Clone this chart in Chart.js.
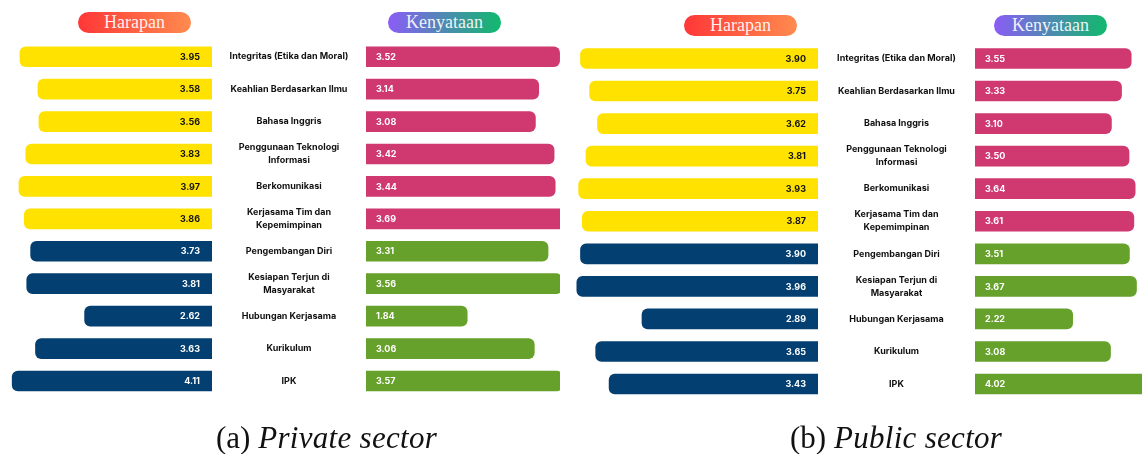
<!DOCTYPE html>
<html><head><meta charset="utf-8">
<script src="https://cdn.jsdelivr.net/npm/chart.js@4"></script>
<style>
html,body{margin:0;padding:0;background:#fff;}
#wrap{position:relative;width:1142px;height:454px;overflow:hidden;background:#fff;}
canvas{position:absolute;top:0;}
.pill{position:absolute;width:113px;height:21px;border-radius:11px;color:rgba(255,255,255,0.92);font-family:'Liberation Serif',serif;font-size:18px;line-height:21px;text-align:center;}
.harapan{background:linear-gradient(90deg,#ff3737,#ff8b4f);}
.kenyataan{background:linear-gradient(90deg,#8b5cf6,#10b96c);}
.cap{position:absolute;top:422px;font-family:'Liberation Serif',serif;font-size:31px;line-height:31px;white-space:nowrap;color:#111;}
.cap i{letter-spacing:0.3px;}
</style></head>
<body><div id="wrap">
 <div class="pill harapan" style="left:78px;top:12px">Harapan</div>
 <div class="pill kenyataan" style="left:388px;top:12px">Kenyataan</div>
 <div class="pill harapan" style="left:684px;top:15px">Harapan</div>
 <div class="pill kenyataan" style="left:994px;top:15px">Kenyataan</div>
 <canvas id="aL" width="212" height="454" style="left:0px"></canvas>
 <canvas id="aR" width="348" height="454" style="left:212px"></canvas>
 <canvas id="bL" width="248" height="454" style="left:570px"></canvas>
 <canvas id="bR" width="324" height="454" style="left:818px"></canvas>
 <div class="cap" style="left:216px">(a) <i>Private sector</i></div>
 <div class="cap" style="left:790px">(b) <i>Public sector</i></div>
</div>
<script>
const categories = [
  ['Integritas (Etika dan Moral)'],
  ['Keahlian Berdasarkan Ilmu'],
  ['Bahasa Inggris'],
  ['Penggunaan Teknologi', 'Informasi'],
  ['Berkomunikasi'],
  ['Kerjasama Tim dan', 'Kepemimpinan'],
  ['Pengembangan Diri'],
  ['Kesiapan Terjun di', 'Masyarakat'],
  ['Hubungan Kerjasama'],
  ['Kurikulum'],
  ['IPK']
];
const privateHarapan   = [3.95, 3.58, 3.56, 3.83, 3.97, 3.86, 3.73, 3.81, 2.62, 3.63, 4.11];
const privateKenyataan = [3.52, 3.14, 3.08, 3.42, 3.44, 3.69, 3.31, 3.56, 1.84, 3.06, 3.57];
const publicHarapan    = [3.90, 3.75, 3.62, 3.81, 3.93, 3.87, 3.90, 3.96, 2.89, 3.65, 3.43];
const publicKenyataan  = [3.55, 3.33, 3.10, 3.50, 3.64, 3.61, 3.51, 3.67, 2.22, 3.08, 4.02];

const YELLOW = '#FFE200', NAVY = '#033F70', PINK = '#D0396F', GREEN = '#66A12B';
const harapanColors   = categories.map((c, i) => i < 6 ? YELLOW : NAVY);
const harapanText     = categories.map((c, i) => i < 6 ? '#111111' : '#FFFFFF');
const kenyataanColors = categories.map((c, i) => i < 6 ? PINK : GREEN);
const kenyataanText   = categories.map(() => '#FFFFFF');

const LABEL_FONT = { family: 'Inter', size: 9, weight: 'bold', lineHeight: 1.45 };

function measureWidest(labels, fontStr) {
  const c = document.createElement('canvas').getContext('2d');
  c.font = fontStr;
  let w = 0;
  labels.forEach(l => (Array.isArray(l) ? l : [l]).forEach(s => { w = Math.max(w, c.measureText(s).width); }));
  return w;
}

const valueLabels = {
  id: 'valueLabels',
  afterDatasetsDraw(chart, args, opts) {
    const ctx = chart.ctx;
    const meta = chart.getDatasetMeta(0);
    const data = chart.data.datasets[0].data;
    ctx.save();
    ctx.font = 'bold 9px Inter';
    ctx.textBaseline = 'middle';
    meta.data.forEach((bar, i) => {
      const txt = data[i].toFixed(2);
      ctx.fillStyle = opts.colors[i];
      if (opts.side === 'left') {
        ctx.textAlign = 'right';
        ctx.fillText(txt, bar.base - opts.inset, bar.y + 0.5);
      } else {
        ctx.textAlign = 'left';
        ctx.fillText(txt, bar.base + opts.inset, bar.y + 0.5);
      }
    });
    ctx.restore();
  }
};

function makeLeft(id, values, max, top, bottom) {
  return new Chart(document.getElementById(id), {
    type: 'bar',
    data: { labels: categories, datasets: [{
      data: values, backgroundColor: harapanColors, barThickness: 20,
      borderRadius: 6, borderSkipped: 'start', clip: 0 }] },
    options: {
      indexAxis: 'y', responsive: false, animation: false,
      layout: { padding: { top: top, bottom: bottom, left: 0, right: 0 } },
      plugins: { legend: { display: false }, tooltip: { enabled: false },
        valueLabels: { side: 'left', inset: 12, colors: harapanText } },
      scales: {
        x: { reverse: true, min: 0, max: max, display: false },
        y: { display: false }
      }
    },
    plugins: [valueLabels]
  });
}

function makeRight(id, values, max, top, bottom, colW) {
  const widest = measureWidest(categories, 'bold 9px Inter');
  const pad = colW / 2 - widest / 2;
  return new Chart(document.getElementById(id), {
    type: 'bar',
    data: { labels: categories, datasets: [{
      data: values, backgroundColor: kenyataanColors, barThickness: 20,
      borderRadius: 6, borderSkipped: 'start', clip: 0 }] },
    options: {
      indexAxis: 'y', responsive: false, animation: false,
      layout: { padding: { top: top, bottom: bottom, left: 0, right: 0 } },
      plugins: { legend: { display: false }, tooltip: { enabled: false },
        valueLabels: { side: 'right', inset: 10, colors: kenyataanText } },
      scales: {
        x: { min: 0, max: max, display: false },
        y: {
          position: 'left',
          grid: { display: false, drawTicks: false },
          border: { display: false },
          ticks: { crossAlign: 'center', padding: pad, color: '#111111', font: LABEL_FONT, autoSkip: false },
          afterFit: s => { s.width = colW; }
        }
      }
    },
    plugins: [valueLabels]
  });
}

makeLeft('aL', privateHarapan, 4.36, 40.5, 56.8);
makeRight('aR', privateKenyataan, 3.527, 40.5, 56.8, 154);
makeLeft('bL', publicHarapan, 4.072, 42.2, 53.7);
makeRight('bR', publicKenyataan, 3.795, 42.2, 53.7, 157);
</script>
</body></html>
